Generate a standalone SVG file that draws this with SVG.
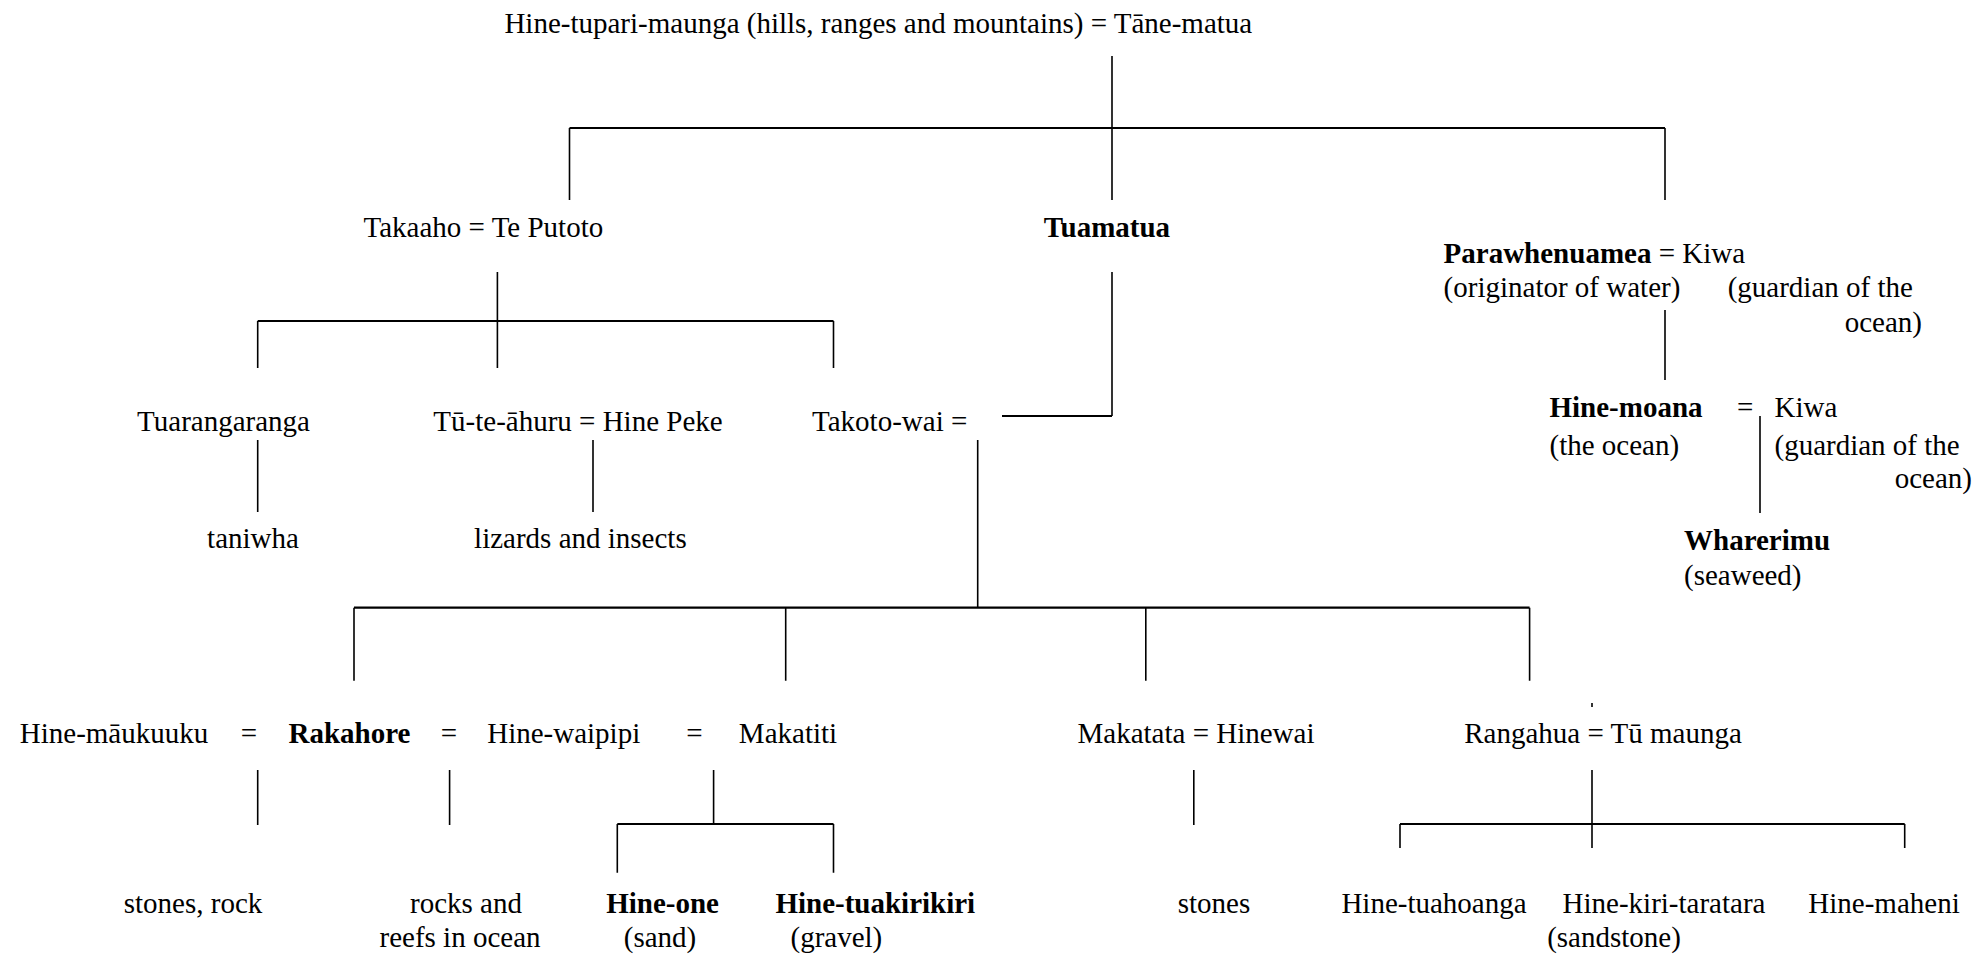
<svg xmlns="http://www.w3.org/2000/svg" width="1977" height="963" viewBox="0 0 1977 963">
<rect width="1977" height="963" fill="#fff"/>
<g id="connectors" stroke="#000" fill="none">
<path stroke-width="1.6" d="M1112 56V200M569.5 128V200M1665 128V200"/>
<path stroke-width="2.2" d="M569.5 128H1665"/>
<path stroke-width="1.6" d="M497.4 272V368M257.7 321V368M833.5 321V368"/>
<path stroke-width="2.2" d="M257.7 321H833.5"/>
<path stroke-width="1.6" d="M1112 272V416"/>
<path stroke-width="2.2" d="M1002 416H1112"/>
<path stroke-width="1.6" d="M257.7 440V512M593 440V512"/>
<path stroke-width="1.6" d="M977.7 440V607.7M354 607.7V680.7M785.7 607.7V680.7M1145.8 607.7V680.7M1529.6 607.7V680.7"/>
<path stroke-width="2.2" d="M354 607.7H1529.6"/>
<path stroke-width="1.6" d="M1665 310V380M1760 416V513"/>
<path stroke-width="1.6" d="M257.7 770V825M449.6 770V825M713.6 770V824M617.3 824V872.7M833.5 824V872.7"/>
<path stroke-width="2.2" d="M617.3 824H833.5"/>
<path stroke-width="1.6" d="M1193.8 770V825M1592 770V848M1400 824V848M1904.7 824V848M1592 703V707"/>
<path stroke-width="2.2" d="M1400 824H1904.7"/>
</g>
<g id="nodes" fill="#000">
<g id="n-root"><text font-family="Liberation Serif" font-size="29" text-anchor="middle" x="878.3" y="33">Hine-tupari-maunga (hills, ranges and mountains) = Tāne-matua</text></g>
<g id="n-takaaho"><text font-family="Liberation Serif" font-size="29" text-anchor="middle" x="483.4" y="237">Takaaho = Te Putoto</text></g>
<g id="n-tuamatua"><text font-family="Liberation Serif" font-size="29" text-anchor="middle" font-weight="bold" x="1107" y="237">Tuamatua</text></g>
<g id="n-parawhenuamea">
<text font-family="Liberation Serif" font-size="29" x="1443.6" y="263"><tspan font-weight="bold">Parawhenuamea</tspan> = Kiwa</text>
<text font-family="Liberation Serif" font-size="29" x="1443.6" y="297">(originator of water)</text>
<text font-family="Liberation Serif" font-size="29" x="1727.7" y="297">(guardian of the</text>
<text font-family="Liberation Serif" font-size="29" text-anchor="end" x="1922" y="332">ocean)</text>
</g>
<g id="n-hinemoana">
<text font-family="Liberation Serif" font-size="29" font-weight="bold" x="1549.5" y="417">Hine-moana</text>
<text font-family="Liberation Serif" font-size="29" x="1737" y="417">=</text>
<text font-family="Liberation Serif" font-size="29" x="1774.5" y="417">Kiwa</text>
<text font-family="Liberation Serif" font-size="29" x="1549.5" y="455">(the ocean)</text>
<text font-family="Liberation Serif" font-size="29" x="1774.5" y="455">(guardian of the</text>
<text font-family="Liberation Serif" font-size="29" text-anchor="end" x="1972" y="488">ocean)</text>
</g>
<g id="n-wharerimu">
<text font-family="Liberation Serif" font-size="29" font-weight="bold" x="1684" y="550">Wharerimu</text>
<text font-family="Liberation Serif" font-size="29" x="1684" y="585">(seaweed)</text>
</g>
<g id="n-tuarangaranga"><text font-family="Liberation Serif" font-size="29" text-anchor="middle" x="223.5" y="431">Tuarangaranga</text></g>
<g id="n-tutea"><text font-family="Liberation Serif" font-size="29" text-anchor="middle" x="578" y="431">Tū-te-āhuru = Hine Peke</text></g>
<g id="n-takotowai"><text font-family="Liberation Serif" font-size="29" text-anchor="middle" x="889.7" y="431">Takoto-wai =</text></g>
<g id="n-taniwha"><text font-family="Liberation Serif" font-size="29" text-anchor="middle" x="253" y="548">taniwha</text></g>
<g id="n-lizards"><text font-family="Liberation Serif" font-size="29" text-anchor="middle" x="580.4" y="548">lizards and insects</text></g>
<g id="n-rakahore">
<text font-family="Liberation Serif" font-size="29" text-anchor="middle" x="114" y="743">Hine-māukuuku</text>
<text font-family="Liberation Serif" font-size="29" text-anchor="middle" x="249" y="743">=</text>
<text font-family="Liberation Serif" font-size="29" text-anchor="middle" font-weight="bold" x="349.5" y="743">Rakahore</text>
<text font-family="Liberation Serif" font-size="29" text-anchor="middle" x="449" y="743">=</text>
<text font-family="Liberation Serif" font-size="29" text-anchor="middle" x="563.7" y="743">Hine-waipipi</text>
<text font-family="Liberation Serif" font-size="29" text-anchor="middle" x="694.5" y="743">=</text>
<text font-family="Liberation Serif" font-size="29" text-anchor="middle" x="788" y="743">Makatiti</text>
</g>
<g id="n-makatata"><text font-family="Liberation Serif" font-size="29" text-anchor="middle" x="1196" y="743">Makatata = Hinewai</text></g>
<g id="n-rangahua"><text font-family="Liberation Serif" font-size="29" text-anchor="middle" x="1603" y="743">Rangahua = Tū maunga</text></g>
<g id="n-stonesrock"><text font-family="Liberation Serif" font-size="29" text-anchor="middle" x="193" y="913">stones, rock</text></g>
<g id="n-rocks">
<text font-family="Liberation Serif" font-size="29" text-anchor="middle" x="466" y="913">rocks and</text>
<text font-family="Liberation Serif" font-size="29" text-anchor="middle" x="460" y="947">reefs in ocean</text>
</g>
<g id="n-hineone">
<text font-family="Liberation Serif" font-size="29" text-anchor="middle" font-weight="bold" x="662.6" y="913">Hine-one</text>
<text font-family="Liberation Serif" font-size="29" text-anchor="middle" x="660" y="947">(sand)</text>
</g>
<g id="n-hinetuakirikiri">
<text font-family="Liberation Serif" font-size="29" text-anchor="middle" font-weight="bold" x="875.3" y="913">Hine-tuakirikiri</text>
<text font-family="Liberation Serif" font-size="29" text-anchor="middle" x="836.4" y="947">(gravel)</text>
</g>
<g id="n-stones"><text font-family="Liberation Serif" font-size="29" text-anchor="middle" x="1214" y="913">stones</text></g>
<g id="n-hinetuahoanga"><text font-family="Liberation Serif" font-size="29" text-anchor="middle" x="1434" y="913">Hine-tuahoanga</text></g>
<g id="n-hinekiri">
<text font-family="Liberation Serif" font-size="29" text-anchor="middle" x="1664" y="913">Hine-kiri-taratara</text>
<text font-family="Liberation Serif" font-size="29" text-anchor="middle" x="1614" y="947">(sandstone)</text>
</g>
<g id="n-hinemaheni"><text font-family="Liberation Serif" font-size="29" text-anchor="middle" x="1884" y="913">Hine-maheni</text></g>
</g>
</svg>
